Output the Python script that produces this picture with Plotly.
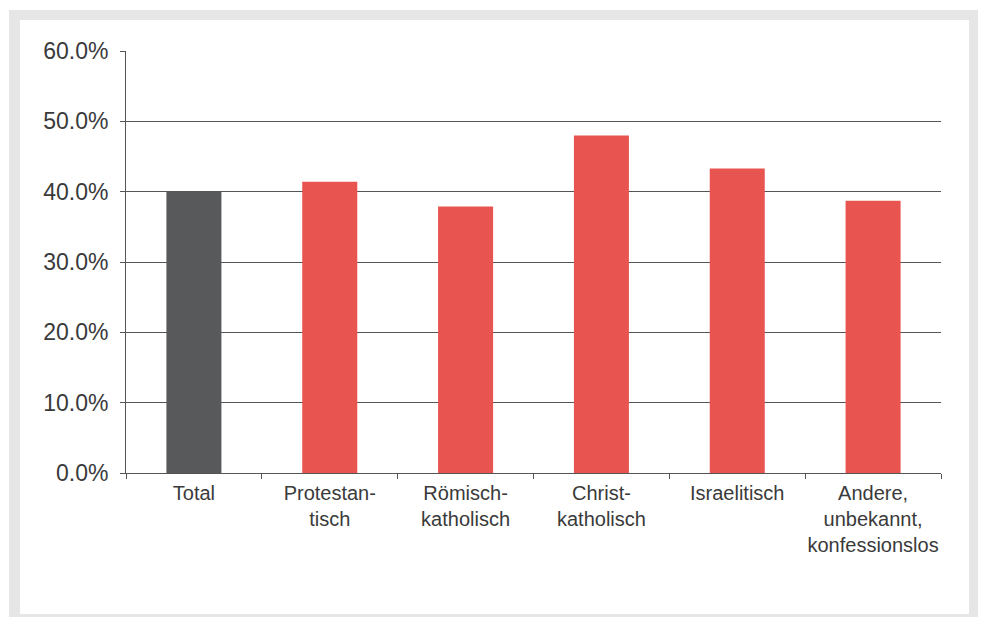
import plotly.graph_objects as go

categories = ["Total", "Protestan-<br>tisch", "Römisch-<br>katholisch", "Christ-<br>katholisch",
              "Israelitisch", "Andere,<br>unbekannt,<br>konfessionslos"]
values = [40.0, 41.4, 37.9, 48.0, 43.3, 38.7]
colors = ["#58595b", "#e85450", "#e85450", "#e85450", "#e85450", "#e85450"]
ytick_vals = [0, 10, 20, 30, 40, 50, 60]
ytick_text = ["0.0%", "10.0%", "20.0%", "30.0%", "40.0%", "50.0%", "60.0%"]

W, H = 981, 617
L, R, T, B = 126, 40, 51, 144
pw, ph = W - L - R, H - T - B

def px_x(p):
    return (p - L) / pw

def px_y(p):
    return (H - B - p) / ph

fig = go.Figure()
fig.add_trace(go.Bar(x=categories, y=values, marker=dict(color=colors, line=dict(width=0)),
                     width=0.405, hoverinfo="skip"))

fig.add_shape(type="rect", xref="paper", yref="paper", layer="below",
              x0=px_x(9), x1=px_x(978), y0=px_y(640), y1=px_y(10),
              fillcolor="#e6e6e6", line=dict(width=0))
fig.add_shape(type="rect", xref="paper", yref="paper", layer="below",
              x0=px_x(20), x1=px_x(969), y0=px_y(614), y1=px_y(20),
              fillcolor="#ffffff", line=dict(width=0))

fig.update_layout(
    width=W, height=H,
    margin=dict(l=L, r=R, t=T, b=B, pad=0, autoexpand=False),
    paper_bgcolor="#ffffff", plot_bgcolor="rgba(0,0,0,0)",
    font=dict(family="Liberation Sans", color="#3a3a3a", size=20),
    showlegend=False,
    xaxis=dict(
        showline=True, linecolor="#555555", linewidth=1,
        ticks="outside", ticklen=5, tickcolor="#555555", tickson="boundaries",
        tickfont=dict(size=20, color="#3a3a3a", family="Liberation Sans"),
        ticklabelstandoff=2, tickangle=0, automargin=False,
        showgrid=False, fixedrange=True,
    ),
    yaxis=dict(
        range=[0, 60], tickvals=ytick_vals, ticktext=ytick_text,
        showline=True, linecolor="#555555", linewidth=1,
        ticks="outside", ticklen=5, tickcolor="#555555",
        showgrid=True, gridcolor="#555555", gridwidth=1,
        zeroline=False, ticklabelstandoff=7, automargin=False,
        tickfont=dict(size=23, color="#3a3a3a", family="Liberation Sans"),
        fixedrange=True,
    ),
)

fig.write_html("out.html", config={"displayModeBar": False})
